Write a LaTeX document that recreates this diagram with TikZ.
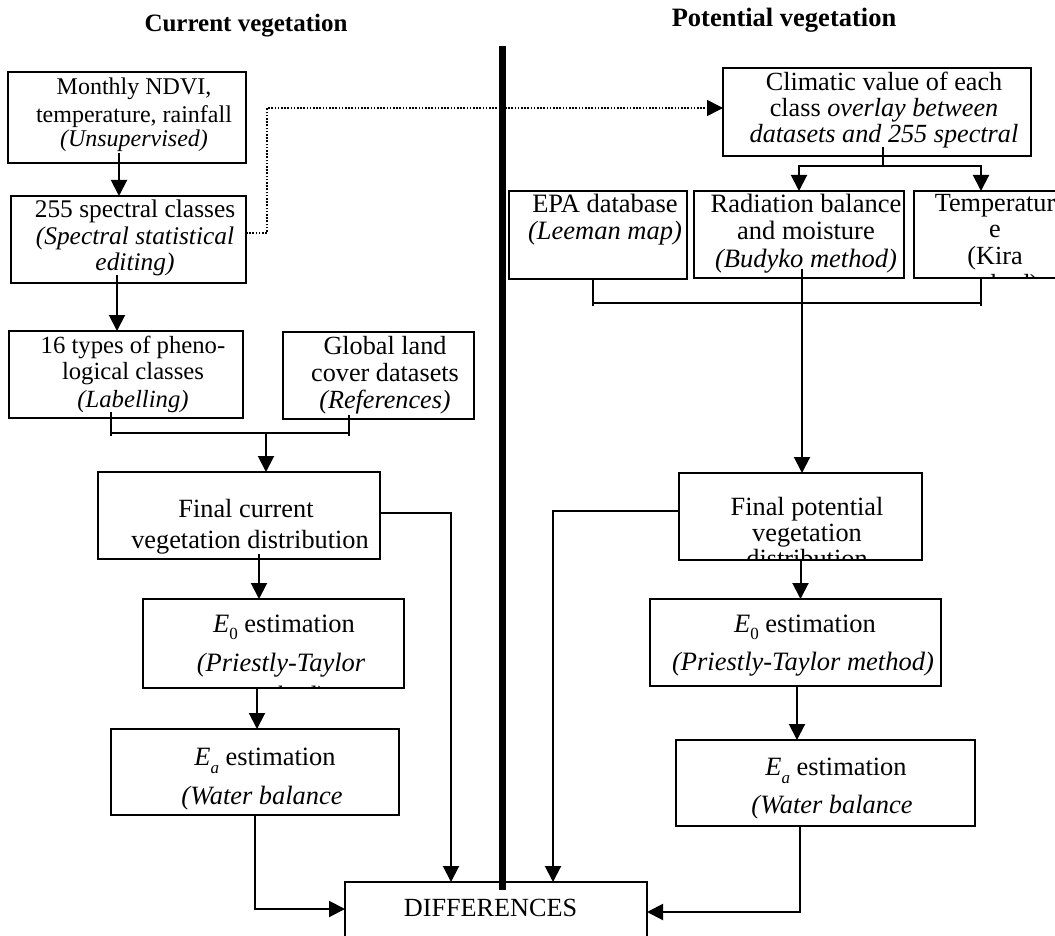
\documentclass[tikz,border=0pt]{standalone}
\usepackage{fontspec}
\setmainfont{Liberation Serif}
\usetikzlibrary{arrows.meta}
\newcommand\Esub[2]{\textit{E}\raisebox{-#2pt}{\fontsize{17}{17}\selectfont #1}}
\newcommand\mkbox[5]{\node[bx,minimum width={(#4)-(#2)},minimum height={(#5)-(#3)}] (#1) at (#2,#3) {};}
\begin{document}
\begin{tikzpicture}[x=1pt,y=-1pt,
  bx/.style={draw,line width=1.9pt,inner sep=0pt,outer sep=0pt,anchor=north west},
  txt/.style={inner sep=0pt,anchor=base,font=\fontsize{#1}{#1}\selectfont},
  ln/.style={line width=2pt},
  arr/.style={ln,-{Triangle[width=16pt,length=16pt]}},
  dotarr/.style={line width=1.6pt,dash pattern=on 1.6pt off 1.6pt,-{Triangle[width=16pt,length=16pt]}},
  divider/.style={line width=7pt}
]
\clip (0,0) rectangle (1055,936);
\fill[white] (0,0) rectangle (1055,936);

% titles
\node[txt=25] (tl) at (246,32) {\bfseries Current vegetation};
\node[txt=26.5] (tr) at (784,27) {\bfseries Potential vegetation};

% boxes
\mkbox{box1}{8}{72}{246}{163}
\mkbox{box2}{11}{196}{246}{283}
\mkbox{box3}{9}{331}{243}{418}
\mkbox{box4}{283}{332}{474}{419}
\mkbox{box5}{98}{472}{380}{559}
\mkbox{box6}{143}{599}{404}{688}
\mkbox{box7}{111}{729}{399}{815}
\mkbox{diff}{345}{882}{647}{945}
\mkbox{clim}{723}{68}{1031}{156}
\mkbox{epa}{509}{191}{687}{279}
\mkbox{rad}{694}{191}{904}{278}
\mkbox{temp}{914}{191}{1090}{278}
\mkbox{fpot}{679}{473}{922}{560}
\mkbox{eor}{650}{599}{941}{686}
\mkbox{ear}{676}{740}{975}{826}

% texts left
\node[txt=24] (b1a) at (134,95) {Monthly NDVI,};
\node[txt=24] (b1b) at (134,122.5) {temperature, rainfall};
\node[txt=24] (b1c) at (134,147) {\itshape (Unsupervised)};
\node[txt=25.4] (b2a) at (135,218) {255 spectral classes};
\node[txt=25.4] (b2b) at (135,245) {\itshape (Spectral statistical};
\node[txt=25.4] (b2c) at (135,270) {\itshape editing)};
\node[txt=24.7] (b3a) at (133,353) {16 types of pheno-};
\node[txt=24.7] (b3b) at (133,379) {logical classes};
\node[txt=24.7] (b3c) at (133,407) {\itshape (Labelling)};
\node[txt=26.2] (b4a) at (385,354) {Global land};
\node[txt=26.2] (b4b) at (385,381) {cover datasets};
\node[txt=26.2] (b4c) at (385,408) {\itshape (References)};
\node[txt=26.3] (b5a) at (246,517) {Final current};
\node[txt=26.3] (b5b) at (250,548) {vegetation distribution};
\node[txt=26.5] (b6a) at (284,632) {\Esub{0}{7} estimation};
\node[txt=26.5] (b6b) at (281,671) {\itshape (Priestly-Taylor};
\begin{scope}
\clip (box6.south west) rectangle (box6.north east);
\node[txt=26.5] (b6c) at (281,704) {\itshape method)};
\end{scope}
\node[txt=26.4] (b7a) at (265,765) {\Esub{\itshape a}{8} estimation};
\node[txt=26.4] (b7b) at (262,804) {\itshape (Water balance};
\node[txt=26.2] (dtx) at (490.5,916) {DIFFERENCES};

% texts right
\node[txt=26.2] (cla) at (884,91) {Climatic value of each};
\node[txt=26.2] (clb) at (884,117) {class \textit{overlay between}};
\node[txt=26.2] (clc) at (884,143) {\itshape datasets and 255 spectral};
\begin{scope}
\clip (clim.south west) rectangle (clim.north east);
\node[txt=26.2] (cld) at (884,175) {\itshape classes)};
\end{scope}
\node[txt=26.5] (epaa) at (605,213) {EPA database};
\node[txt=26.5] (epab) at (605,240) {\itshape (Leeman map)};
\node[txt=26.5] (rada) at (806,213) {Radiation balance};
\node[txt=26.5] (radb) at (806,240) {and moisture};
\node[txt=26.5] (radc) at (806,267) {\itshape (Budyko method)};
\node[txt=26.2] (tma) at (995,212) {Temperatur};
\node[txt=26.2] (tmb) at (995,238) {e};
\node[txt=26.2] (tmc) at (995,265) {(Kira};
\begin{scope}
\clip (temp.south west) rectangle (temp.north east);
\node[txt=26.2] (tmd) at (995,292) {method)};
\end{scope}
\node[txt=26.3] (fpa) at (807,515) {Final potential};
\node[txt=26.3] (fpb) at (807,541) {vegetation};
\begin{scope}
\clip (fpot.south west) rectangle (fpot.north east);
\node[txt=26.3] (fpc) at (807,567) {distribution};
\end{scope}
\node[txt=26.5] (eora) at (805,632) {\Esub{0}{7} estimation};
\node[txt=26.5] (eorb) at (803,670) {\itshape (Priestly-Taylor method)};
\node[txt=26.4] (eara) at (836,775) {\Esub{\itshape a}{8} estimation};
\node[txt=26.4] (earb) at (832,813) {\itshape (Water balance};

% helper coordinates
\coordinate (bl) at (111,436);
\coordinate (br) at (349,436);
\coordinate (jl) at (266,433);
\coordinate (dl) at (345,909);
\coordinate (dt1) at (451,882);
\coordinate (dc) at (267,108);
\coordinate (sp) at (883,166);
\coordinate (ta) at (981,191);
\coordinate (rb1) at (593,306);
\coordinate (rb2) at (981,306);
\coordinate (rj) at (802,303);
\coordinate (dt2) at (553,882);
\coordinate (dr) at (647,912);

% left connectors
\draw[arr] ([xshift=-8pt,yshift=10pt]box1.south) -- ([xshift=-8pt]box1.south |- box2.north);
\draw[arr] ([xshift=-11.5pt,yshift=8pt]box2.south) -- ([xshift=-11.5pt]box2.south |- box3.north);
\draw[ln] ([yshift=6pt]box3.south -| bl) -- (bl);
\draw[ln] ([yshift=4pt]box4.south -| br) -- (br);
\draw[ln] ([yshift=3pt]bl) -- ([yshift=3pt]br);
\draw[arr] (jl) -- (jl |- box5.north);
\draw[arr] ([xshift=20pt,yshift=5pt]box5.south) -- ([xshift=20pt]box5.south |- box6.north);
\draw[arr] ([xshift=-16.5pt]box6.south) -- ([xshift=-16.5pt]box6.south |- box7.north);
\draw[arr] (box7.south) |- (dl);
\draw[arr] ([yshift=2.5pt]box5.east) -| (dt1);

% dotted link
\draw[dotarr] ([yshift=6.5pt]box2.east) -| (dc) -- (dc -| clim.west);

% right connectors
\draw[ln] ([yshift=9pt]clim.south -| sp) -- (sp);
\draw[arr] (sp) -| (rad.north);
\draw[arr] (sp) -| (ta);
\draw[ln] (epa.south -| rb1) -- (rb1);
\draw[ln] (temp.south -| rb2) -- (rb2);
\draw[ln] ([yshift=3pt]rb1) -- ([yshift=3pt]rb2);
\draw[arr] ([yshift=9pt]rad.south -| rj) -- (rj |- fpot.north);
\draw[arr] ([yshift=5.5pt]fpot.west) -| (dt2);
\draw[arr] (fpot.south) -- (fpot.south |- eor.north);
\draw[arr] ([xshift=1.5pt]eor.south) -- ([xshift=1.5pt]eor.south |- ear.north);
\draw[arr] ([xshift=-25.5pt]ear.south) |- (dr);

% divider
\draw[divider] (502.5,46) -- (502.5,890);
\end{tikzpicture}
\end{document}
